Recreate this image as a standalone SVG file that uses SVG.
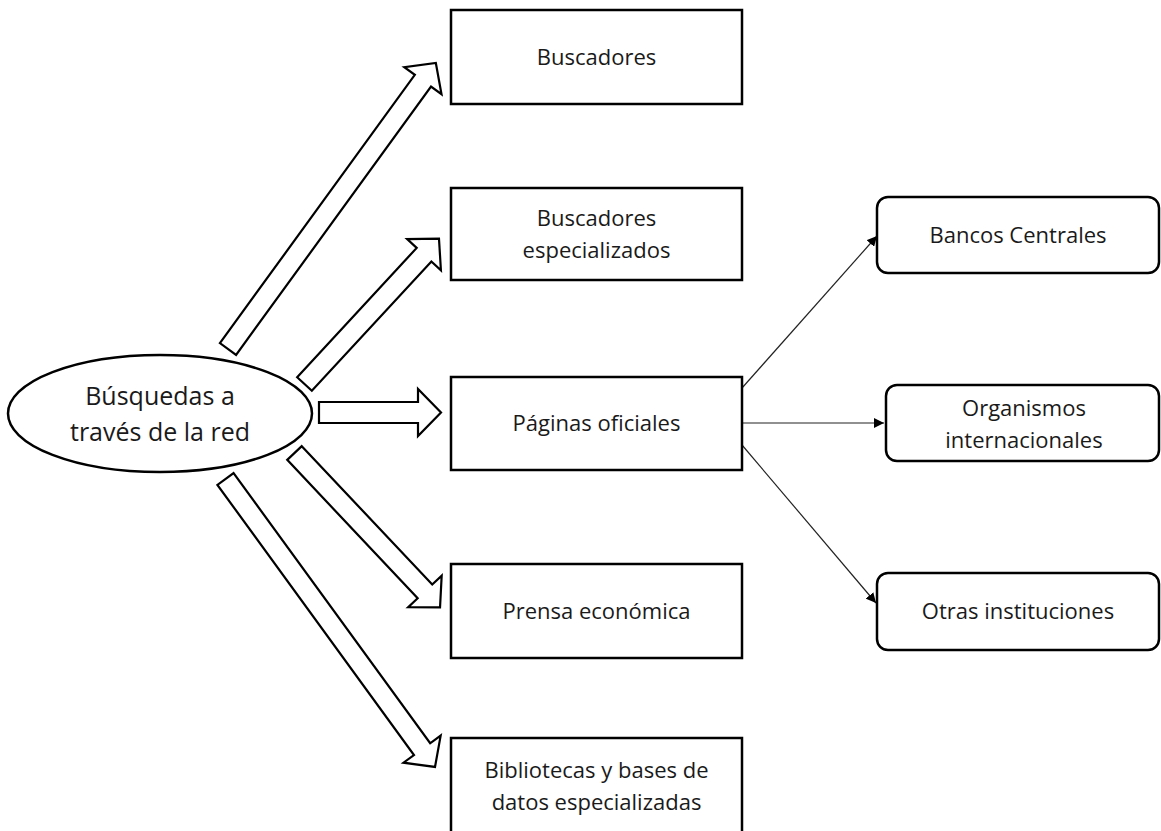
<svg xmlns="http://www.w3.org/2000/svg" width="1161" height="831" viewBox="0 0 1161 831">
<defs>
<style>
.box{fill:#fff;stroke:#000;stroke-width:2.5}
.rbox{fill:#fff;stroke:#000;stroke-width:2.5}
.t{font-family:"Open Sans","Liberation Sans",sans-serif;font-size:22px;fill:#1a1a1a;text-anchor:middle}
.te{font-family:"Open Sans","Liberation Sans",sans-serif;font-size:25px;fill:#1a1a1a;text-anchor:middle}
.blk{fill:#fff;stroke:#000;stroke-width:2.2;stroke-linejoin:miter}
.thin{fill:none;stroke:#222;stroke-width:1.2}
</style>
<marker id="ah" viewBox="0 0 10 10" refX="10" refY="5" markerWidth="10" markerHeight="10" markerUnits="userSpaceOnUse" orient="auto">
<path d="M0,0 L10,5 L0,10 Z" fill="#000"/>
</marker>
</defs>
<rect width="1161" height="831" fill="#fff"/>
<g id="connectors">
<path class="blk" transform="translate(228,349) rotate(-54.0)" d="M0,-10 L331.6,-10 L331.6,-23 L353.6,0 L331.6,23 L331.6,10 L0,10 Z"/>
<path class="blk" transform="translate(304.5,384) rotate(-47.25)" d="M0,-10 L176.1,-10 L176.1,-23 L198.1,0 L176.1,23 L176.1,10 L0,10 Z"/>
<path class="blk" transform="translate(319,412.5)" d="M0,-10.5 L99,-10.5 L99,-23.5 L122,0 L99,23.5 L99,10.5 L0,10.5 Z"/>
<path class="blk" transform="translate(294.5,453) rotate(46.7)" d="M0,-10 L190.2,-10 L190.2,-23 L212.2,0 L190.2,23 L190.2,10 L0,10 Z"/>
<path class="blk" transform="translate(225.5,479) rotate(53.96)" d="M0,-10 L334.1,-10 L334.1,-23 L356.1,0 L334.1,23 L334.1,10 L0,10 Z"/>
<line class="thin" x1="742" y1="388" x2="877" y2="236" marker-end="url(#ah)"/>
<line class="thin" x1="742" y1="423" x2="884" y2="423" marker-end="url(#ah)"/>
<line class="thin" x1="742" y1="445" x2="876" y2="603" marker-end="url(#ah)"/>
</g>
<g id="n-busquedas">
<ellipse class="box" cx="160" cy="413.5" rx="152" ry="58.5"/>
<text class="te" x="160" y="405">Búsquedas a</text>
<text class="te" x="160" y="441">través de la red</text>
</g>
<g id="n-buscadores">
<rect class="box" x="451" y="10" width="291" height="94"/>
<text class="t" x="596.5" y="65">Buscadores</text>
</g>
<g id="n-buscadores-esp">
<rect class="box" x="451" y="188" width="291" height="92"/>
<text class="t" x="596.5" y="226">Buscadores</text>
<text class="t" x="596.5" y="258">especializados</text>
</g>
<g id="n-paginas">
<rect class="box" x="451" y="377" width="291" height="93"/>
<text class="t" x="596.5" y="431">Páginas oficiales</text>
</g>
<g id="n-prensa">
<rect class="box" x="451" y="564" width="291" height="94"/>
<text class="t" x="596.5" y="619">Prensa económica</text>
</g>
<g id="n-bibliotecas">
<rect class="box" x="451" y="738" width="291" height="95"/>
<text class="t" x="596.5" y="778">Bibliotecas y bases de</text>
<text class="t" x="596.5" y="810">datos especializadas</text>
</g>
<g id="n-bancos">
<rect class="rbox" x="877" y="197" width="282" height="76" rx="11"/>
<text class="t" x="1018" y="243">Bancos Centrales</text>
</g>
<g id="n-organismos">
<rect class="rbox" x="886" y="385" width="273" height="76" rx="11"/>
<text class="t" x="1024" y="416">Organismos</text>
<text class="t" x="1024" y="448">internacionales</text>
</g>
<g id="n-otras">
<rect class="rbox" x="877" y="573" width="282" height="77" rx="11"/>
<text class="t" x="1018" y="619">Otras instituciones</text>
</g>
</svg>
